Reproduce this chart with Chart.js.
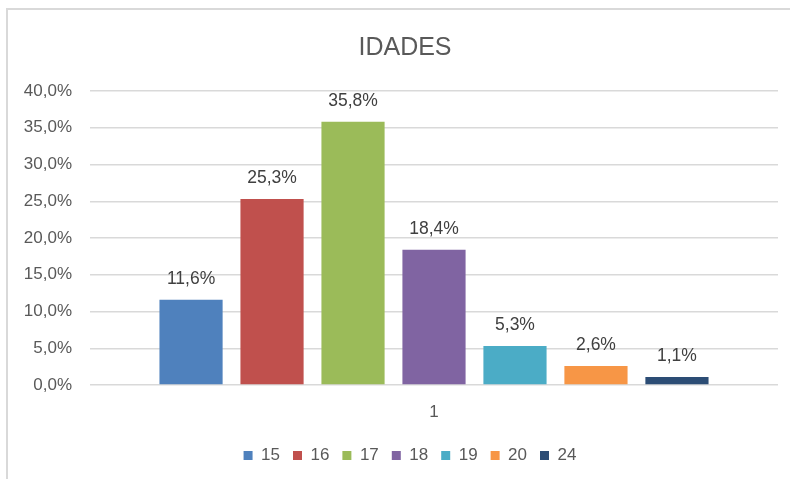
<!DOCTYPE html>
<html>
<head>
<meta charset="utf-8">
<script src="https://cdn.jsdelivr.net/npm/chart.js@4/dist/chart.umd.min.js"></script>
<style>
  html, body { margin: 0; padding: 0; background: #fff; }
  #wrap { position: relative; width: 790px; height: 479px; }
  canvas { display: block; }
</style>
</head>
<body>
<div id="wrap"><canvas id="c" width="790" height="479"></canvas></div>
<script>
const categories = ['1'];
const ageLabels = ['15', '16', '17', '18', '19', '20', '24'];
const percentages = [11.6, 25.3, 35.8, 18.4, 5.3, 2.6, 1.1];
const barColors = ['#4f81bd', '#c0504d', '#9bbb59', '#8064a2', '#4bacc6', '#f79646', '#2c4d75'];
const yTicks = { min: 0, max: 40, step: 5 };

const FONT = "'Liberation Sans', 'DejaVu Sans', sans-serif";
const fmt = v => v.toFixed(1).replace('.', ',') + '%';

const frame = {
  id: 'frame',
  afterLayout(chart) {
    // nudge legend and title slightly right, as in the original chart box
    const lg = chart.legend;
    if (lg) { lg.left += 21; lg.right += 21; }
    const tb = chart.titleBlock;
    if (tb) { tb.left += 16; tb.right += 16; }
  },
  beforeDraw(chart) {
    const ctx = chart.ctx;
    ctx.save();
    ctx.fillStyle = '#fff';
    ctx.fillRect(0, 0, chart.width, chart.height);
    ctx.strokeStyle = '#d9d9d9';
    ctx.lineWidth = 2;
    ctx.beginPath();
    ctx.moveTo(7, chart.height);
    ctx.lineTo(7, 9);
    ctx.lineTo(chart.width, 9);
    ctx.stroke();
    ctx.restore();
  }
};

const valueLabels = {
  id: 'valueLabels',
  afterDatasetsDraw(chart) {
    const ctx = chart.ctx;
    ctx.save();
    ctx.font = '17.5px ' + FONT;
    ctx.fillStyle = '#404040';
    ctx.textAlign = 'center';
    ctx.textBaseline = 'middle';
    chart.data.datasets.forEach((ds, i) => {
      const meta = chart.getDatasetMeta(i);
      meta.data.forEach((bar, j) => {
        ctx.fillText(fmt(ds.data[j]), bar.x, bar.y - 21);
      });
    });
    ctx.restore();
  }
};

new Chart(document.getElementById('c'), {
  type: 'bar',
  data: {
    labels: categories,
    datasets: ageLabels.map((lab, i) => ({
      label: lab,
      data: [percentages[i]],
      backgroundColor: barColors[i],
      borderWidth: 0,
      categoryPercentage: 0.824,
      barPercentage: 0.78
    }))
  },
  options: {
    responsive: false,
    animation: false,
    devicePixelRatio: 1,
    layout: { padding: { left: 0, right: 12, top: 20, bottom: 5 } },
    plugins: {
      title: {
        display: true,
        text: 'IDADES',
        color: '#595959',
        font: { family: FONT, size: 25, weight: 'normal' },
        padding: { top: 13, bottom: 28 }
      },
      legend: {
        position: 'bottom',
        labels: {
          boxWidth: 9,
          boxHeight: 9,
          padding: 13,
          color: '#595959',
          font: { family: FONT, size: 17 }
        }
      },
      tooltip: { enabled: false }
    },
    scales: {
      x: {
        grid: { display: false },
        border: { display: false },
        ticks: { color: '#595959', font: { family: FONT, size: 17 }, padding: 9 },
        afterFit(s) { s.height = 49; }
      },
      y: {
        min: yTicks.min,
        max: yTicks.max,
        border: { display: false },
        grid: { color: '#d9d9d9', lineWidth: 1.5, drawTicks: false },
        ticks: {
          stepSize: yTicks.step,
          color: '#595959',
          padding: 18,
          font: { family: FONT, size: 17 },
          callback: v => fmt(v)
        },
        afterFit(s) { s.width = 90; }
      }
    }
  },
  plugins: [frame, valueLabels]
});
</script>
</body>
</html>
